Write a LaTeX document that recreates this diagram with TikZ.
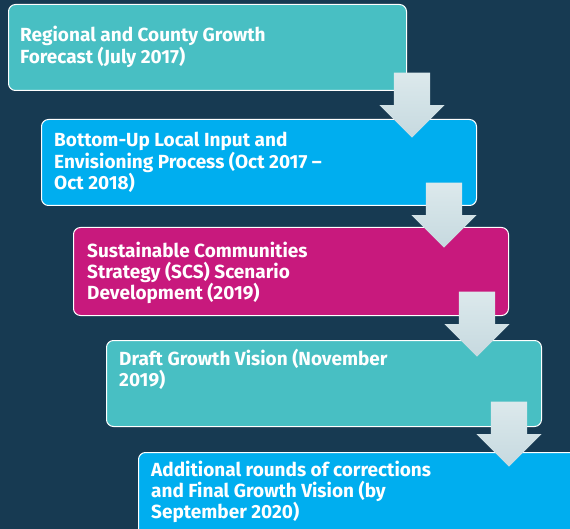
\documentclass[tikz,border=0pt]{standalone}
\usepackage{fontspec}
\setmainfont{Fira Sans}
\usetikzlibrary{positioning,shapes.arrows}
\definecolor{navy}{HTML}{173A52}
\definecolor{teal}{HTML}{48BFC3}
\definecolor{skyblue}{HTML}{00AEEF}
\definecolor{magenta}{HTML}{C8197D}
\definecolor{arrowtop}{HTML}{DCE9EC}
\definecolor{arrowbot}{HTML}{C6D9DF}
\begin{document}
\begin{tikzpicture}[x=1pt,y=-1pt,
    box/.style={draw=white,line width=1pt,rounded corners=7pt,anchor=north west,
      minimum width=435pt,minimum height=86pt,inner sep=0pt},
    lbl/.style={align=left,text=white,inner sep=0pt,
      font=\bfseries\fontsize{19}{20.5}\selectfont},
    down/.style={single arrow,rotate=-90,anchor=tip,minimum height=65pt,minimum width=65pt,
      single arrow head extend=14.5pt,inner xsep=0pt,inner ysep=18pt,
      top color=arrowtop,bottom color=arrowbot}]
      \useasboundingbox (0,0) rectangle (570,529);
      \clip (0,0) rectangle (570,529);
      \fill[navy] (0,0) rectangle (570,529);
      % the five steps
      \node[box,fill=teal,minimum width=398pt] (box1) at (8,4) {};
      \node[box,fill=skyblue] (box2) at (41,119) {};
      \node[box,fill=magenta,minimum height=88pt] (box3) at (73,227) {};
      \node[box,fill=teal] (box4) at (106,340) {};
      \node[box,fill=skyblue,minimum width=440pt] (box5) at (138,452) {};
      \node[lbl,below right=22pt and 12pt of box1.north west] (t1)
        {Regional and County Growth\\Forecast (July 2017)};
      \node[lbl,below right=13pt and 13pt of box2.north west] (t2)
        {Bottom-Up Local Input and\\Envisioning Process (Oct 2017 --\\Oct 2018)};
      \node[lbl,below right=15pt and 14pt of box3.north west] (t3)
        {Sustainable Communities\\Strategy (SCS) Scenario\\Development (2019)};
      \node[lbl,below right=9pt and 13pt of box4.north west] (t4)
        {Draft Growth Vision (November\\2019)};
      \node[lbl,below right=9pt and 13pt of box5.north west] (t5)
        {Additional rounds of corrections\\and Final Growth Vision (by\\September 2020)};
      % arrows between the steps
      \node[down] (a1) at (412,138) {};
      \node[down] (a2) at (444,248) {};
      \node[down] (a3) at (477,357) {};
      \node[down] (a4) at (509,467) {};
    \end{tikzpicture}
\end{document}
